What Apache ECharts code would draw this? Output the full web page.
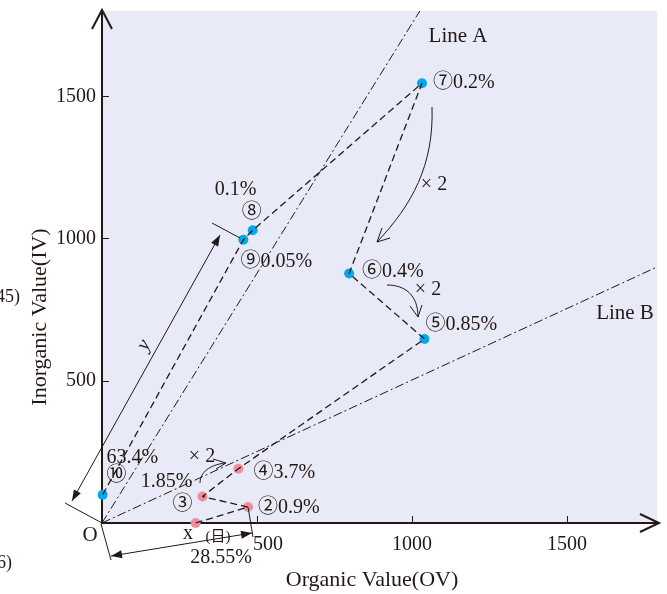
<!DOCTYPE html>
<html>
<head>
<meta charset="utf-8">
<script src="https://cdn.jsdelivr.net/npm/echarts@6/dist/echarts.min.js"></script>
<style>
  html, body { margin: 0; padding: 0; background: #fff; }
  #chart { width: 667px; height: 594px; }
</style>
</head>
<body>
<div id="chart"></div>
<script>
// ①〜④ pink points, ⑤〜⑩ blue points (OV, IV)
const pinkOV = [302, 471, 324, 440]
const pinkIV = [0, 56, 93, 191]
const blueOV = [1040, 797, 1032, 486, 456, 2]
const blueIV = [647, 877, 1546, 1029, 996, 99]

// reference lines through the origin
const lineAOV = [0, 1025]
const lineAIV = [0, 1800]
const lineBOV = [0, 1790]
const lineBIV = [0, 900]

const xTicks = [500, 1000, 1500]
const yTicks = [500, 1000, 1500]

const pointLabels = ['', '②0.9%', '③', '④3.7%', '⑤0.85%', '⑥0.4%', '⑦0.2%', '⑧', '⑨0.05%', '⑩']

const ink = '#231815'
const serif = "'Liberation Serif', 'Noto Sans CJK JP', serif"

const chart = echarts.init(document.getElementById('chart'))

const pinkPts = pinkOV.map((v, i) => [v, pinkIV[i]])
const bluePts = blueOV.map((v, i) => [v, blueIV[i]])
const pathPts = pinkPts.concat(bluePts)

chart.setOption({
  animation: false,
  grid: {
    left: 102, right: 10, top: 11, bottom: 71,
    show: true, backgroundColor: '#e8ebf7', borderWidth: 0
  },
  xAxis: {
    type: 'value', min: 0, max: 1790, interval: 500,
    axisLine: { lineStyle: { color: ink, width: 2 } },
    axisTick: { inside: true, length: 7, customValues: xTicks, lineStyle: { color: ink } },
    axisLabel: {
      customValues: xTicks, margin: 12, color: ink, fontFamily: serif, fontSize: 20,
      formatter: v => v === 500 ? '{s|500}' : String(v),
      rich: { s: { padding: [0, 0, 0, 22], color: ink, fontFamily: serif, fontSize: 20 } }
    },
    splitLine: { show: false }
  },
  yAxis: {
    type: 'value', min: 0, max: 1800, interval: 500,
    axisLine: { lineStyle: { color: ink, width: 2 } },
    axisTick: { inside: true, length: 7, customValues: yTicks, lineStyle: { color: ink } },
    axisLabel: {
      customValues: yTicks, margin: 6, color: ink, fontFamily: serif, fontSize: 20,
      formatter: v => String(v)
    },
    splitLine: { show: false }
  },
  series: [
    {
      name: 'Line A', type: 'line', symbol: 'none', silent: true,
      data: lineAOV.map((v, i) => [v, lineAIV[i]]),
      lineStyle: { color: ink, width: 1, type: [9, 3, 2, 3] }
    },
    {
      name: 'Line B', type: 'line', symbol: 'none', silent: true,
      data: lineBOV.map((v, i) => [v, lineBIV[i]]),
      lineStyle: { color: ink, width: 1, type: [9, 3, 2, 3] }
    },
    {
      name: 'path', type: 'line', symbol: 'none', silent: true,
      data: pathPts,
      lineStyle: { color: ink, width: 1.3, type: [7, 4] }
    },
    {
      name: 'pink', type: 'scatter', symbolSize: 10, data: pinkPts,
      itemStyle: { color: '#ef8f9d', opacity: 1 }
    },
    {
      name: 'blue', type: 'scatter', symbolSize: 10, data: bluePts,
      itemStyle: { color: '#00a9ec', opacity: 1 }
    }
  ]
})

// label placement, pixel offsets from each point
const labelPos = [
  null, [10, 1, 'left'], [-20, 8, 'center'], [15, 4, 'left'], [1, -14, 'left'],
  [13, -2, 'left'], [11, 0, 'left'], [-1, -18, 'center'], [-3, 22, 'left'], [14, -19, 'center']
]
// extra texts: [point index, text, dx, dy, align]
const extraTexts = [
  [7, '0.1%', -17, -41, 'center'],
  [9, '63.4%', 4, -37, 'left'],
  [2, '1.85%', -10, -15, 'right']
]

const px = p => chart.convertToPixel({ gridIndex: 0 }, p)

function txt(x, y, s, align, size, extra) {
  return Object.assign({
    type: 'text', x, y, z: 10,
    style: { text: s, fill: ink, font: (size || 20) + 'px ' + serif, align: align || 'center', verticalAlign: 'middle' }
  }, extra || {})
}
function seg(a, b) {
  return { type: 'line', z: 9, shape: { x1: a[0], y1: a[1], x2: b[0], y2: b[1] }, style: { stroke: ink, lineWidth: 1 } }
}
// filled arrow head at tip, coming from 'from'
function head(tip, from, len, half) {
  const dx = tip[0] - from[0], dy = tip[1] - from[1]
  const d = Math.hypot(dx, dy), ux = dx / d, uy = dy / d
  const bx = tip[0] - ux * len, by = tip[1] - uy * len
  return {
    type: 'polygon', z: 9,
    shape: { points: [tip, [bx - uy * half, by + ux * half], [bx + uy * half, by - ux * half]] },
    style: { fill: ink }
  }
}
function poly(points, w) {
  return { type: 'polyline', z: 9, shape: { points }, style: { stroke: ink, lineWidth: w || 1, fill: null } }
}
function curve(p1, c1, c2, p2) {
  return {
    type: 'bezierCurve', z: 9,
    shape: { x1: p1[0], y1: p1[1], cpx1: c1[0], cpy1: c1[1], cpx2: c2[0], cpy2: c2[1], x2: p2[0], y2: p2[1] },
    style: { stroke: ink, lineWidth: 1, fill: null }
  }
}

const g = []
pathPts.forEach((p, i) => {
  if (!labelPos[i]) return
  const c = px(p)
  g.push(txt(c[0] + labelPos[i][0], c[1] + labelPos[i][1], pointLabels[i], labelPos[i][2]))
})
extraTexts.forEach(([i, s, dx, dy, al]) => {
  const c = px(pathPts[i])
  g.push(txt(c[0] + dx, c[1] + dy, s, al))
})

// axis arrow chevrons
g.push(poly([[92, 29], [102, 10], [112, 29]], 2))
g.push(poly([[640, 514], [659, 523], [640, 532]], 2))

// y measure
g.push(seg([72, 501], [220, 235]))
g.push(head([220, 235], [72, 501], 11, 4))
g.push(head([72, 501], [220, 235], 11, 4))
g.push(seg([212, 223], [240, 238]))
g.push(seg([65, 503], [102, 523]))
const yLab = txt(0, 0, 'y', 'center', 20)
yLab.x = 144; yLab.y = 345; yLab.rotation = 1.07
yLab.style.font = 'italic 20px ' + serif
g.push(yLab)

// x measure
g.push(seg([111, 556], [252, 533]))
g.push(head([111, 556], [252, 533], 11, 4))
g.push(head([252, 533], [111, 556], 11, 4))
g.push(seg([101, 524], [111, 560]))
g.push(seg([248, 507], [253, 537]))
g.push(txt(188, 534, 'x'))
g.push(txt(218, 537, '(日)', 'center', 15))
g.push(txt(221, 558, '28.55%'))

// ×2 curved arrows
g.push(curve([432, 107], [434, 165], [412, 205], [377, 242]))
g.push(poly([[382, 228], [377, 242], [390, 238]]))
g.push(txt(434, 185, '× 2'))
g.push(curve([387, 285], [405, 285], [418, 295], [418, 317]))
g.push(poly([[410, 306], [418, 317], [422, 305]]))
g.push(txt(428, 290, '× 2'))
g.push(curve([200, 483], [200, 472], [210, 465], [225, 463]))
g.push(poly([[213, 459], [226, 463], [216, 469]]))
g.push(txt(202, 457, '× 2'))

// line names, origin
g.push(txt(458, 36, 'Line A', 'center', 21))
g.push(txt(625, 313, 'Line B', 'center', 21))
g.push(txt(90, 535, 'O', 'center', 21))

// axis titles
g.push(txt(372, 580, 'Organic Value(OV)', 'center', 22))
const yTitle = txt(40, 317, 'Inorganic Value(IV)', 'center', 22)
yTitle.rotation = Math.PI / 2
g.push(yTitle)

// clipped text from the neighbouring page
g.push(txt(-4, 297, '45)', 'left', 18))
g.push(txt(-3, 563, '6)', 'left', 18))

chart.setOption({ graphic: g })
</script>
</body>
</html>
